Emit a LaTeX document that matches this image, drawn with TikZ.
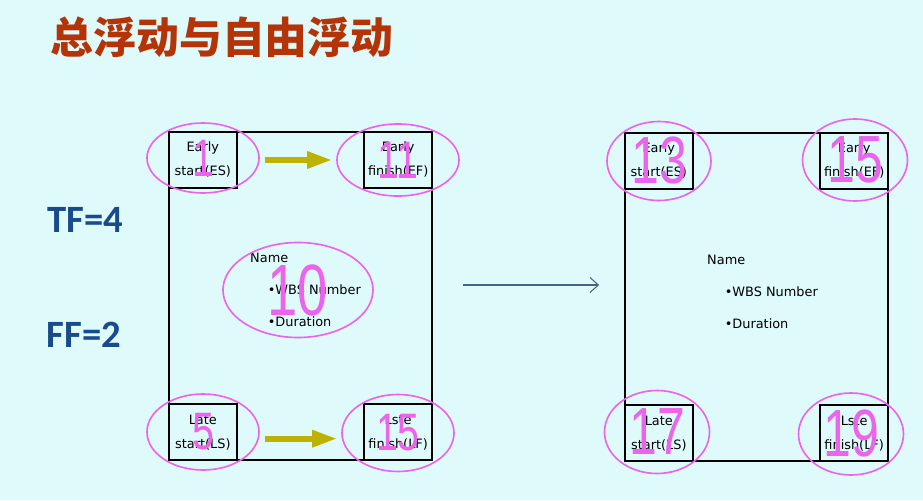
\documentclass[tikz,border=0pt]{standalone}
\usepackage{fontspec}
\usepackage{graphicx}
\usetikzlibrary{shapes.geometric,arrows.meta}
\newfontfamily\cjk{Noto Sans CJK SC}
\newfontfamily\calib{Carlito}
\newfontfamily\dejavu{DejaVu Sans}
\newfontfamily\arial{Liberation Sans}
\definecolor{bg}{RGB}{223,250,251}
\definecolor{ringpink}{RGB}{236,100,236}
\definecolor{olivearrow}{RGB}{190,178,0}
\definecolor{titlered}{RGB}{180,52,8}
\definecolor{floatblue}{RGB}{23,75,140}
\definecolor{linkblue}{RGB}{70,100,130}
\newcommand\narrow[1]{\scalebox{0.75}[1]{#1}}
\begin{document}
\begin{tikzpicture}[
x=0.03cm,y=-0.03cm,
bigbox/.style={draw,line width=1.5pt,minimum width=7.89cm,minimum height=9.84cm,inner sep=0},
smallbox/.style={draw,line width=1.2pt,minimum width=2.04cm,minimum height=1.68cm,inner sep=0,align=center,font=\dejavu\fontsize{11}{20.5}\selectfont},
info/.style={inner sep=0,align=left,anchor=north west,font=\dejavu\fontsize{11}{27.3}\selectfont},
ring/.style={ellipse,draw=ringpink,line width=1.4pt,text=ringpink,inner sep=0},
ring s/.style={ring,font=\arial\fontsize{45}{45}\selectfont},
ring l/.style={ring,font=\arial\fontsize{57}{57}\selectfont},
ring c/.style={ring,font=\arial\fontsize{62}{62}\selectfont},
float/.style={text=floatblue,font=\calib\bfseries\fontsize{33}{33}\selectfont,inner sep=0},
push/.style={draw=olivearrow,line width=5pt,-{Triangle[length=0.75cm,width=0.48cm]},shorten <=0.15cm,shorten >=0.12cm},
link/.style={draw=linkblue,line width=0.9pt,-{Straight Barb[length=0.25cm,width=0.45cm]},shorten <=0.9cm,shorten >=0.75cm}
]
\fill[bg] (0,0) rectangle (923,500);
\node[text=titlered,font=\cjk\bfseries\fontsize{36.5}{36.5}\selectfont,inner sep=0] (title) at (222,37) {总浮动与自由浮动};
\node[float] (tf) at (85,220) {TF=4};
\node[float] (ff) at (84,335) {FF=2};
% left activity
\node[bigbox] (L) at (300.5,296) {};
\node[smallbox,anchor=north west] (es1) at (L.north west) {Early\\start(ES)};
\node[smallbox,anchor=north east] (ef1) at (L.north east) {Early\\finish(EF)};
\node[smallbox,anchor=south west] (ls1) at (L.south west) {Late\\start(LS)};
\node[smallbox,anchor=south east] (lf1) at (L.south east) {Lste\\finish(LF)};
\node[info] (nm1) at (250,253) {Name\\\hspace*{15pt}\textbullet WBS Number\\\hspace*{15pt}\textbullet Duration};
% right activity
\node[bigbox] (R) at (756.5,297) {};
\node[smallbox,anchor=north west] (es2) at (R.north west) {Early\\start(ES)};
\node[smallbox,anchor=north east] (ef2) at (R.north east) {Early\\finish(EF)};
\node[smallbox,anchor=south west] (ls2) at (R.south west) {Late\\start(LS)};
\node[smallbox,anchor=south east] (lf2) at (R.south east) {Lste\\finish(LF)};
\node[info] (nm2) at (707,255) {Name\\\hspace*{15pt}\textbullet WBS Number\\\hspace*{15pt}\textbullet Duration};
% rings
\node[ring s,minimum width=3.36cm,minimum height=2.1cm] (n1) at (203,158) {\narrow{1}};
\node[ring s,minimum width=3.66cm,minimum height=2.16cm] (n11) at (398,160) {\narrow{11}};
\node[ring s,minimum width=3.36cm,minimum height=2.28cm] (n5) at (203,432) {\narrow{5}};
\node[ring s,minimum width=3.36cm,minimum height=2.31cm] (n15) at (398,433) {\narrow{15}};
\node[ring c,minimum width=4.5cm,minimum height=2.85cm] (n10) at (298,290) {\narrow{10}};
\node[ring l,minimum width=3.12cm,minimum height=2.37cm] (m13) at (659,161) {\narrow{13}};
\node[ring l,minimum width=3.15cm,minimum height=2.46cm] (m15) at (855,160) {\narrow{15}};
\node[ring l,minimum width=3.15cm,minimum height=2.49cm] (m17) at (657,432) {\narrow{17}};
\node[ring l,minimum width=3.15cm,minimum height=2.46cm] (m19) at (851,434) {\narrow{19}};
% arrows
\draw[push] (n1.east |- n11) -- (n11.west);
\draw[push] ([yshift=-0.2cm]n5.east) -- ([yshift=-0.2cm]n5.east -| n15.west);
\draw[link] ([yshift=0.33cm]L.east) -- ([yshift=0.33cm]L.east -| R.west);
\end{tikzpicture}
\end{document}
